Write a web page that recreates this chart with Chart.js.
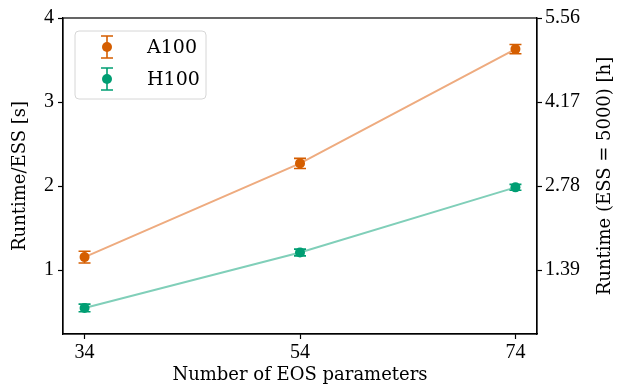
<!DOCTYPE html>
<html lang="en">
<head>
    <meta charset="UTF-8">
    <title>Runtime per ESS</title>
    <style>
        body { margin: 0; background: #fff; }
        #wrap { width: 628px; height: 388px; }
    </style>
    <script src="https://cdn.jsdelivr.net/npm/chart.js"></script>
</head>
<body>
    <div id="wrap"><canvas id="runtimeChart"></canvas></div>

    <script>
        // number of EOS parameters
        const nParams = [34, 54, 74];
        // runtime / ESS in seconds, with error bars
        const a100 = [1.155, 2.27, 3.63];
        const a100Err = [0.07, 0.06, 0.055];
        const h100 = [0.55, 1.21, 1.985];
        const h100Err = [0.045, 0.04, 0.035];
        // right axis: runtime in hours for ESS = 5000
        const essTarget = 5000;
        const rightTicks = [1, 2, 3, 4];

        const toHours = essTarget / 3600;
        const FONT = 'Liberation Serif';
        const TITLE_FONT = 'DejaVu Serif';
        const orange = '#d55e00', orangeLight = '#eeab7f';
        const green = '#009e73', greenLight = '#80cfb9';

        const errors = [a100Err, h100Err];

        function drawErrBar(ctx, x, yTop, yBot, color) {
            ctx.strokeStyle = color;
            ctx.lineWidth = 1.6;
            ctx.beginPath();
            ctx.moveTo(x, yTop); ctx.lineTo(x, yBot);
            ctx.moveTo(x - 6, yTop); ctx.lineTo(x + 6, yTop);
            ctx.moveTo(x - 6, yBot); ctx.lineTo(x + 6, yBot);
            ctx.stroke();
        }

        const errorBars = {
            id: 'errorBars',
            afterDatasetsDraw(chart) {
                const ctx = chart.ctx;
                const ys = chart.scales.y;
                ctx.save();
                chart.data.datasets.forEach((ds, i) => {
                    const meta = chart.getDatasetMeta(i);
                    meta.data.forEach((pt, j) => {
                        const v = ds.data[j].y, e = errors[i][j];
                        drawErrBar(ctx, pt.x, ys.getPixelForValue(v + e), ys.getPixelForValue(v - e), ds.pointBackgroundColor);
                    });
                    meta.data.forEach(pt => {
                        ctx.fillStyle = ds.pointBackgroundColor;
                        ctx.beginPath();
                        ctx.arc(pt.x, pt.y, 5, 0, Math.PI * 2);
                        ctx.fill();
                    });
                });
                ctx.restore();
            }
        };

        const frameAndLegend = {
            id: 'frameAndLegend',
            afterDraw(chart) {
                const ctx = chart.ctx;
                const a = chart.chartArea;
                ctx.save();
                ctx.strokeStyle = '#000';
                ctx.lineWidth = 1.2;
                ctx.strokeRect(a.left, a.top, a.right - a.left, a.bottom - a.top);

                // right axis title, reads bottom to top like the left one
                ctx.save();
                ctx.translate(a.right + 68, (a.top + a.bottom) / 2);
                ctx.rotate(-Math.PI / 2);
                ctx.fillStyle = '#000';
                ctx.font = '18px ' + TITLE_FONT;
                ctx.textAlign = 'center';
                ctx.textBaseline = 'middle';
                ctx.fillText('Runtime (ESS = 5000) [h]', 0, 0);
                ctx.restore();

                // legend box
                const lx = a.left + 12, ly = a.top + 13, lw = 131, lh = 68;
                ctx.fillStyle = 'rgba(255,255,255,0.8)';
                ctx.strokeStyle = '#d6d6d6';
                ctx.lineWidth = 1;
                ctx.beginPath();
                ctx.roundRect(lx, ly, lw, lh, 4);
                ctx.fill();
                ctx.stroke();

                chart.data.datasets.forEach((ds, i) => {
                    const cx = lx + 32, cy = ly + 16 + i * 32;
                    drawErrBar(ctx, cx, cy - 11, cy + 11, ds.pointBackgroundColor);
                    ctx.fillStyle = ds.pointBackgroundColor;
                    ctx.beginPath();
                    ctx.arc(cx, cy, 5, 0, Math.PI * 2);
                    ctx.fill();
                    ctx.fillStyle = '#000';
                    ctx.font = '19px ' + TITLE_FONT;
                    ctx.textBaseline = 'middle';
                    ctx.fillText(ds.label, lx + 72, cy + 1);
                });
                ctx.restore();
            }
        };

        const tickFont = { family: FONT, size: 20 };
        const titleFont = { family: TITLE_FONT, size: 18 };

        new Chart(document.getElementById('runtimeChart'), {
            type: 'line',
            data: {
                datasets: [{
                    label: 'A100',
                    data: nParams.map((x, i) => ({ x: x, y: a100[i] })),
                    borderColor: orangeLight,
                    borderWidth: 2,
                    pointRadius: 0,
                    pointBackgroundColor: orange,
                    fill: false
                }, {
                    label: 'H100',
                    data: nParams.map((x, i) => ({ x: x, y: h100[i] })),
                    borderColor: greenLight,
                    borderWidth: 2,
                    pointRadius: 0,
                    pointBackgroundColor: green,
                    fill: false
                }]
            },
            options: {
                responsive: true,
                maintainAspectRatio: false,
                animation: false,
                layout: { padding: { top: 18, left: 0, right: 0, bottom: 0 } },
                plugins: {
                    legend: { display: false },
                    tooltip: { enabled: false }
                },
                scales: {
                    x: {
                        type: 'linear',
                        min: 32, max: 76,
                        afterBuildTicks: s => { s.ticks = nParams.map(v => ({ value: v })); },
                        ticks: { color: '#000', font: tickFont, padding: 2 },
                        grid: { drawOnChartArea: false, color: '#000', tickLength: 5, tickWidth: 1.2 },
                        border: { color: '#000', width: 1.2 },
                        title: { display: true, text: 'Number of EOS parameters', color: '#000', font: titleFont, padding: { top: 0, bottom: 2 } },
                        afterFit: s => { s.height = 54; }
                    },
                    y: {
                        position: 'left',
                        min: 0.24, max: 4,
                        afterBuildTicks: s => { s.ticks = rightTicks.map(v => ({ value: v })); },
                        ticks: { color: '#000', font: tickFont, padding: 4 },
                        grid: { drawOnChartArea: false, color: '#000', tickLength: 5, tickWidth: 1.2 },
                        border: { color: '#000', width: 1.2 },
                        title: { display: true, text: 'Runtime/ESS [s]', color: '#000', font: titleFont, padding: { top: 10, bottom: 0 } },
                        afterFit: s => { s.width = 63; }
                    },
                    y2: {
                        position: 'right',
                        min: 0.24 * toHours, max: 4 * toHours,
                        afterBuildTicks: s => { s.ticks = rightTicks.map(v => ({ value: v * toHours })); },
                        ticks: { color: '#000', font: tickFont, padding: 3, callback: v => v.toFixed(2) },
                        grid: { drawOnChartArea: false, color: '#000', tickLength: 5, tickWidth: 1.2 },
                        border: { color: '#000', width: 1.2 },
                        title: { display: false },
                        afterFit: s => { s.width = 91; }
                    }
                }
            },
            plugins: [errorBars, frameAndLegend]
        });
    </script>
</body>
</html>
